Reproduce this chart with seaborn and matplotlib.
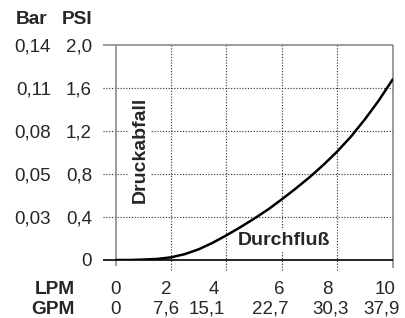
import matplotlib
matplotlib.use("Agg")
import matplotlib.pyplot as plt
import matplotlib.transforms as mtransforms
import seaborn as sns

# ---- data ----
lpm = [0, 0.5, 1, 1.5, 2, 2.5, 3, 3.5, 4, 4.5, 5, 5.5, 6, 6.5, 7, 7.5, 8, 8.5, 9, 9.5, 10]
psi = [0, 0.0, 0.004, 0.01, 0.025, 0.055, 0.1, 0.16, 0.23, 0.305, 0.385, 0.47,
       0.565, 0.665, 0.77, 0.885, 1.01, 1.15, 1.31, 1.485, 1.68]

psi_ticks = [0, 0.4, 0.8, 1.2, 1.6, 2.0]
psi_labels = ["0", "0,4", "0,8", "1,2", "1,6", "2,0"]
bar_labels = ["", "0,03", "0,05", "0,08", "0,11", "0,14"]

lpm_ticks = [0, 2, 4, 6, 8, 10]
lpm_labels = ["0", "2", "4", "6", "8", "10"]
gpm_labels = ["0", "7,6", "15,1", "22,7", "30,3", "37,9"]

# ---- layout (label placement, pixel-measured) ----
lpm_label_pos = [0, 1.82, 3.55, 5.9, 7.63, 9.72]
gpm_label_pos = [-0.02, 1.82, 3.3, 5.57, 7.74, 9.61]

sns.set_theme(style="white")
plt.rcParams["font.family"] = ["Liberation Sans", "DejaVu Sans"]

W, H = 406, 318
fig = plt.figure(figsize=(W / 100, H / 100), dpi=100)
x0, x1, y0, y1 = 115.7, 392.7, 260, 45
ax = fig.add_axes([x0 / W, (H - y0) / H, (x1 - x0) / W, (y0 - y1) / H])
ax.set_xlim(0, 10)
ax.set_ylim(0, 2.0)
for s in ax.spines.values():
    s.set_visible(False)

grey = "#8a8a8a"
dot = "#3a3a3a"
xl = -0.46
fs = 13.5
fsb = 13.8
# horizontal dotted grid
ax.hlines(psi_ticks[1:-1], xl, 10, colors=dot, linestyles=(0, (1, 1.4)), lw=0.85,
          clip_on=False, zorder=1)
# vertical dotted grid
ax.vlines(lpm_ticks[1:-1], -0.09, 2.0, colors=dot, linestyles=(0, (1, 1.4)), lw=0.85,
          clip_on=False, zorder=1)
# frame
ax.hlines([2.0], xl, 10, colors=grey, lw=1.2, clip_on=False, zorder=2)
ax.vlines([0], -0.06, 2.0, colors=grey, lw=1.2, clip_on=False, zorder=2)
ax.vlines([10], -0.07, 2.0, colors=grey, lw=1.2, clip_on=False, zorder=2)
ax.hlines([0], xl, 10, colors="black", lw=1.2, clip_on=False, zorder=3)

sns.lineplot(x=lpm, y=psi, color="black", lw=1.8, ax=ax, zorder=5)

ax.set_xticks([])
ax.set_yticks(psi_ticks)
ax.set_yticklabels(psi_labels, fontsize=fs)
ax.tick_params(axis="y", length=0, pad=17)
ax.set_xlabel("")
ax.set_ylabel("")

tb = mtransforms.blended_transform_factory(ax.transAxes, ax.transData)
for v, lab in zip(psi_ticks, bar_labels):
    ax.text((51 - x0) / (x1 - x0), v, lab, transform=tb, ha="right",
            va="center_baseline", fontsize=fs)

row1, row2 = 287, 307.5
tx = mtransforms.blended_transform_factory(ax.transData, fig.transFigure)
for p, lab in zip(lpm_label_pos, lpm_labels):
    ax.text(p, (H - row1) / H, lab, transform=tx, ha="center",
            va="center_baseline", fontsize=fs)
for p, lab in zip(gpm_label_pos, gpm_labels):
    ax.text(p, (H - row2) / H, lab, transform=tx, ha="center",
            va="center_baseline", fontsize=fs)

fig.text(47 / W, (H - 17) / H, "Bar", ha="right", va="center_baseline", fontsize=fsb,
         fontweight="bold")
fig.text(92 / W, (H - 17) / H, "PSI", ha="right", va="center_baseline", fontsize=fsb,
         fontweight="bold")
fig.text(75 / W, (H - row1) / H, "LPM", ha="right", va="center_baseline", fontsize=fsb,
         fontweight="bold")
fig.text(75 / W, (H - row2) / H, "GPM", ha="right", va="center_baseline", fontsize=fsb,
         fontweight="bold")

ax.text(0.88, 1.02, "Druckabfall", rotation=90, ha="center", va="center",
        fontsize=14, fontweight="bold", zorder=4,
        bbox=dict(facecolor="white", edgecolor="none", pad=1.5))
ax.text(6.08, 0.18, "Durchfluß", ha="center", va="center",
        fontsize=14, fontweight="bold", zorder=4,
        bbox=dict(facecolor="white", edgecolor="none", pad=1.5))

fig.savefig("out.png", dpi=100)
